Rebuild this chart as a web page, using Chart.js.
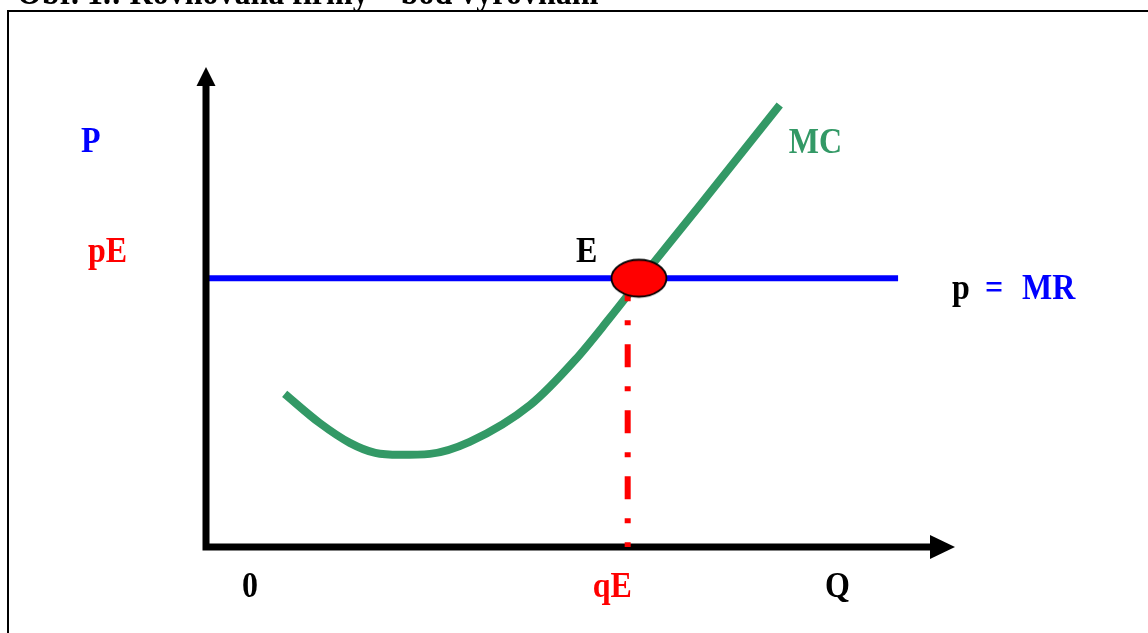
<!DOCTYPE html>
<html><head><meta charset="utf-8">
<script src="https://cdn.jsdelivr.net/npm/chart.js@4.4.1/dist/chart.umd.min.js"></script>
<style>html,body{margin:0;padding:0;background:#fff;overflow:hidden}#wrap{position:relative;width:1148px;height:633px}</style>
</head><body><div id="wrap"><canvas id="c"></canvas></div>
<script>
// ---- data ----
const titleText = 'Obr. 1.: Rovnováha firmy – bod vyrovnání';
const mcQuantity = [1.05, 1.52, 1.92, 2.26, 2.59, 2.99, 3.52, 4.33, 4.93, 5.39, 5.79, 6.60, 7.66];
const mcCost     = [3.19, 2.58, 2.17, 1.96, 1.92, 1.94, 2.19, 2.96, 3.90, 4.77, 5.56, 7.13, 9.21];
const priceEq = 5.6;      // pE
const qEq = 5.63;         // qE
const eqQuantity = 5.78;  // point E
const mrEnd = 9.24;
const axisQMax = 10;
const axisPMax = 10;
const qLabels = ['0', 'qE', 'Q'];
const pLabels = ['P', 'pE'];
const curveLabels = ['MC', 'E'];
const mrLabel = ['p', '=', 'MR'];

// ---- styling ----
const GREEN = 'rgb(51,153,102)';
const BLUE = '#0000ff';
const RED = '#ff0000';
const FONT = 'bold 32px "Liberation Serif", "Times New Roman", serif';

// ellipse marker for point E
const eCanvas = document.createElement('canvas');
eCanvas.width = 60; eCanvas.height = 42;
(function(){
  const g = eCanvas.getContext('2d');
  g.beginPath();
  g.ellipse(30, 21, 27.5, 18.5, 0, 0, Math.PI * 2);
  g.fillStyle = RED; g.fill();
  g.lineWidth = 1.8; g.strokeStyle = '#000'; g.stroke();
})();

const mcData = mcQuantity.map((q, i) => ({x: q, y: mcCost[i]}));

const decor = {
  id: 'decor',
  beforeDraw(chart) {
    const ctx = chart.ctx;
    ctx.save();
    ctx.strokeStyle = '#000';
    ctx.lineWidth = 2;
    ctx.beginPath();
    ctx.moveTo(8, 640); ctx.lineTo(8, 11); ctx.lineTo(1150, 11);
    ctx.stroke();
    ctx.restore();
  },
  afterDatasetsDraw(chart) {
    const ctx = chart.ctx, xs = chart.scales.x, ys = chart.scales.y;
    const ox = xs.getPixelForValue(0), oy = ys.getPixelForValue(0);
    const qt = xs.getPixelForValue(axisQMax), pt = ys.getPixelForValue(axisPMax);
    ctx.save();
    ctx.fillStyle = '#000';
    ctx.beginPath();
    ctx.moveTo(ox, pt); ctx.lineTo(ox + 9.5, pt + 19); ctx.lineTo(ox - 9.5, pt + 19); ctx.closePath(); ctx.fill();
    ctx.beginPath();
    ctx.moveTo(qt, oy); ctx.lineTo(qt - 25, oy - 12); ctx.lineTo(qt - 25, oy + 12); ctx.closePath(); ctx.fill();
    ctx.restore();
  },
  afterDraw(chart) {
    const ctx = chart.ctx, xs = chart.scales.x, ys = chart.scales.y;
    const ox = xs.getPixelForValue(0), oy = ys.getPixelForValue(0);
    const pt = ys.getPixelForValue(axisPMax);
    const peY = ys.getPixelForValue(priceEq);
    const qeX = xs.getPixelForValue(qEq);
    const eX = xs.getPixelForValue(eqQuantity);
    const mrX = xs.getPixelForValue(mrEnd);
    const last = mcData[mcData.length - 1];
    const mcX = xs.getPixelForValue(last.x), mcY = ys.getPixelForValue(last.y);
    ctx.save();
    ctx.font = FONT;
    ctx.textAlign = 'left';
    ctx.textBaseline = 'alphabetic';
    const put = (t, c, x, y) => {
      ctx.save();
      ctx.translate(x, y);
      ctx.scale(1, 1.1);
      ctx.fillStyle = c;
      ctx.fillText(t, 0, 0);
      ctx.restore();
    };
    put(titleText, '#000', 17, 4);
    put(pLabels[0], BLUE, ox - 125, pt + 85);
    put(pLabels[1], RED, ox - 118, peY - 16);
    put(curveLabels[1], '#000', eX - 63, peY - 16);
    put(curveLabels[0], GREEN, mcX + 9, mcY + 48);
    put(mrLabel[0], '#000', mrX + 54, peY + 21);
    put(mrLabel[1], BLUE, mrX + 87, peY + 21);
    put(mrLabel[2], BLUE, mrX + 124, peY + 21);
    put(qLabels[0], '#000', ox + 36, oy + 50);
    put(qLabels[1], RED, qeX - 35, oy + 50);
    put(qLabels[2], '#000', ox + 619, oy + 50);
    ctx.restore();
  }
};

new Chart(document.getElementById('c'), {
  type: 'scatter',
  data: {
    datasets: [
      { // point E
        data: [{x: eqQuantity, y: priceEq}],
        pointStyle: eCanvas, pointRadius: 20, showLine: false, order: 0
      },
      { // dash-dot from E to qE
        data: [{x: qEq, y: priceEq}, {x: qEq, y: 0}],
        showLine: true, borderColor: RED, borderWidth: 6, borderDash: [23, 19, 5, 19],
        borderCapStyle: 'butt', pointRadius: 0, order: 1
      },
      { // MC
        data: mcData,
        showLine: true, borderColor: GREEN, borderWidth: 8, pointRadius: 0,
        cubicInterpolationMode: 'monotone', borderCapStyle: 'butt', order: 3
      },
      { // p = MR
        data: [{x: 0, y: priceEq}, {x: mrEnd, y: priceEq}],
        showLine: true, borderColor: BLUE, borderWidth: 6, pointRadius: 0, order: 4
      },
      { // axes
        data: [{x: 0, y: axisPMax - 0.37}, {x: 0, y: 0}, {x: axisQMax - 0.32, y: 0}],
        showLine: true, borderColor: '#000', borderWidth: 7, pointRadius: 0,
        borderCapStyle: 'square', borderJoinStyle: 'miter', order: 2
      }
    ]
  },
  options: {
    responsive: true, maintainAspectRatio: false, animation: false, events: [],
    layout: { padding: 0, autoPadding: false },
    plugins: { legend: { display: false }, tooltip: { enabled: false } },
    elements: { line: { tension: 0 } },
    scales: {
      x: { type: 'linear', display: false, min: -206 / 74.9, max: (1148 - 206) / 74.9 },
      y: { type: 'linear', display: false, min: -(633 - 547) / 48, max: 547 / 48 }
    },
    clip: false
  },
  plugins: [decor]
});
</script></body></html>
